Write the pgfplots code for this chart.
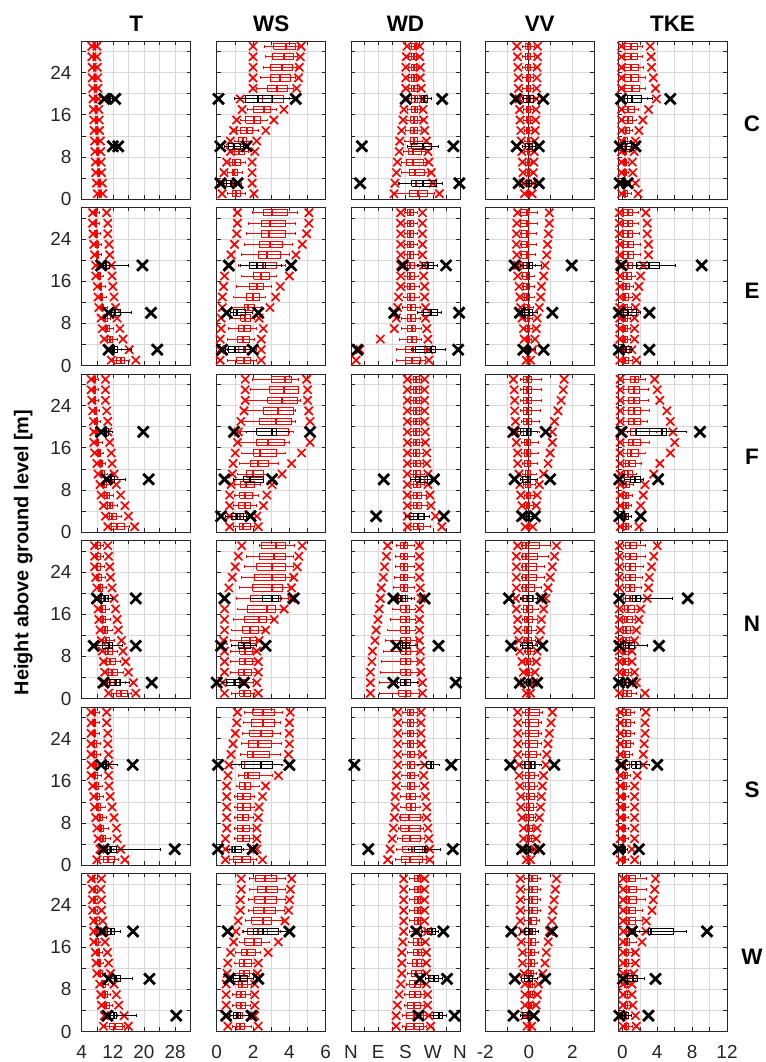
\documentclass[border=0pt]{standalone}
\usepackage{fontspec}
\setmainfont{Liberation Sans}
\usepackage{pgfplots}
\pgfplotsset{compat=1.18}
\usepackage{pgfplotstable}

\newcommand\tickfont{\fontsize{19}{19}\selectfont}
\newcommand\titlefont{\bfseries\fontsize{22.5}{22.5}\selectfont}

% ---------------- Row C ----------------
\pgfplotstableread{
y lo lw qa md qb uw hi
29 6.6 6.9 7.1 7.3 7.5 7.7 7.9
27 6.6 6.9 7.1 7.3 7.5 7.7 7.9
25 6.7 7.0 7.2 7.4 7.6 7.8 8.0
23 6.7 7.0 7.2 7.4 7.6 7.8 8.1
21 6.8 7.1 7.3 7.5 7.7 7.9 8.2
19 6.9 7.2 7.4 7.6 7.8 8.0 8.3
17 7.0 7.3 7.5 7.7 7.9 8.1 8.4
15 7.1 7.4 7.6 7.8 8.0 8.3 8.5
13 7.2 7.5 7.7 7.9 8.1 8.4 8.6
11 7.3 7.6 7.8 8.0 8.3 8.5 8.8
9 7.4 7.7 7.9 8.1 8.4 8.6 8.9
7 7.5 7.8 8.0 8.3 8.5 8.8 9.0
5 7.6 7.9 8.1 8.4 8.6 8.9 9.1
3 7.8 8.0 8.3 8.5 8.8 9.0 9.3
1 8.0 8.2 8.5 8.7 9.0 9.2 9.4
}\datRTaC
\pgfplotstableread{
y lo lw qa md qb uw hi
19 9.8 10.2 10.6 11.0 11.4 11.8 12.6
10 12.0 12.2 12.4 12.7 13.0 13.2 13.4
}\datKTaC
\pgfplotstableread{
y lo lw qa md qb uw hi
29 2.0 2.65 3.15 3.8 4.35 4.5 4.65
27 2.0 2.7 3.05 3.7 4.25 4.45 4.6
25 2.0 2.6 2.95 3.6 4.15 4.4 4.55
23 2.0 2.4 2.95 3.5 4.05 4.35 4.5
21 2.0 2.2 2.8 3.3 3.9 4.2 4.4
19 1.3 1.6 2.5 3.05 3.7 4.0 4.35
17 1.4 1.7 2.0 2.6 2.95 3.3 3.7
15 1.1 1.3 1.6 2.05 2.4 2.8 3.15
13 0.93 1.1 1.3 1.65 1.95 2.3 2.7
11 0.75 0.95 1.2 1.45 1.65 1.9 2.2
9 0.75 0.85 0.95 1.2 1.5 1.75 2.1
7 0.55 0.7 0.85 1.0 1.3 1.6 1.95
5 0.4 0.6 0.85 0.95 1.15 1.4 1.95
3 0.3 0.55 0.75 0.9 1.1 1.35 1.95
1 0.3 0.6 0.85 1.05 1.3 1.6 2.05
}\datRWsC
\pgfplotstableread{
y lo lw qa md qb uw hi
19 0.1 1.0 1.57 2.3 3.05 4.2 4.35
10 0.2 0.45 0.65 0.95 1.3 1.5 1.65
3 0.2 0.4 0.55 0.8 1.0 1.1 1.15
}\datKWsC
\pgfplotstableread{
y lo lw qa md qb uw hi
29 185 192 200 210 216 222 227
27 183 190 199 209 216 222 227
25 181 190 199 209 217 224 229
23 181 190 199 209 217 224 229
21 181 190 199 209 218 226 232
19 181 190 200 210 220 230 238
17 175 185 198 210 220 230 238
15 172 182 197 209 220 232 240
13 167 180 196 208 220 232 243
11 161 175 195 207 220 235 249
9 159 172 189 205 232 245 254
7 153 168 183 205 238 250 257
5 150 165 194 210 243 255 265
3 145 160 200 215 262 266 270
1 142 145 194 221 254 275 292
}\datRWdC
\pgfplotstableread{
y lo lw qa md qb uw hi
19 181 200 232 240 254 265 301
10 36 185 200 238 265 290 338
3 30 156 200 238 281 301 358
}\datKWdC
\pgfplotstableread{
y lo lw qa md qb uw hi
29 -0.55 -0.3 -0.15 -0.05 0.08 0.25 0.40
27 -0.52 -0.3 -0.15 -0.05 0.08 0.25 0.40
25 -0.50 -0.3 -0.14 -0.04 0.07 0.24 0.38
23 -0.48 -0.28 -0.13 -0.04 0.07 0.23 0.37
21 -0.47 -0.27 -0.12 -0.03 0.07 0.22 0.36
19 -0.45 -0.26 -0.12 -0.03 0.06 0.21 0.35
17 -0.42 -0.25 -0.11 -0.03 0.06 0.2 0.33
15 -0.40 -0.23 -0.10 -0.02 0.06 0.19 0.31
13 -0.37 -0.21 -0.09 -0.02 0.05 0.17 0.29
11 -0.34 -0.2 -0.08 -0.02 0.05 0.16 0.27
9 -0.32 -0.18 -0.08 -0.01 0.05 0.15 0.25
7 -0.29 -0.16 -0.07 -0.01 0.04 0.13 0.23
5 -0.27 -0.15 -0.06 -0.01 0.04 0.12 0.21
3 -0.25 -0.14 -0.06 0.0 0.04 0.11 0.2
1 -0.2 -0.1 -0.04 0.0 0.03 0.08 0.15
}\datRVvC
\pgfplotstableread{
y lo lw qa md qb uw hi
19 -0.6 -0.3 -0.23 0.0 0.23 0.4 0.66
10 -0.55 -0.3 -0.15 0.0 0.15 0.3 0.46
3 -0.46 -0.25 -0.12 0.0 0.12 0.3 0.46
}\datKVvC
\pgfplotstableread{
y lo lw qa md qb uw hi
29 -0.1 0.0 0.25 0.95 1.7 2.25 3.2
27 -0.1 0.0 0.25 0.95 1.7 2.25 3.3
25 -0.1 0.0 0.25 1.0 1.8 2.4 3.35
23 -0.1 0.0 0.25 1.0 1.9 2.6 3.55
21 -0.1 0.0 0.25 1.05 1.95 2.6 3.8
19 -0.1 0.0 0.25 1.1 2.2 2.9 3.9
17 -0.1 0.0 0.15 0.7 1.35 1.9 3.0
15 -0.1 0.0 0.15 0.6 1.15 1.6 2.35
13 -0.1 0.0 0.1 0.4 0.8 1.2 1.9
11 -0.1 0.0 0.1 0.3 0.6 0.95 1.5
9 -0.1 0.0 0.1 0.3 0.5 0.8 1.35
7 -0.1 0.0 0.1 0.25 0.45 0.75 1.15
5 -0.1 0.0 0.1 0.25 0.45 0.75 1.2
3 -0.1 0.0 0.1 0.3 0.55 0.9 1.5
1 -0.1 0.0 0.1 0.35 0.6 1.0 1.8
}\datRTkC
\pgfplotstableread{
y lo lw qa md qb uw hi
19 -0.15 0.2 0.6 1.15 2.25 3.4 5.5
10 -0.3 -0.1 0.05 0.4 1.1 1.3 1.5
3 -0.3 -0.1 0.0 0.15 0.4 0.5 0.6
}\datKTkC

% ---------------- Row E ----------------
\pgfplotstableread{
y lo lw qa md qb uw hi
29 6.8 7.0 7.3 7.6 7.9 8.6 10.4
27 6.8 7.0 7.3 7.6 7.9 8.6 10.7
25 6.9 7.1 7.4 7.7 8.0 8.8 10.7
23 7.1 7.3 7.6 7.9 8.2 9.0 11.0
21 7.3 7.5 7.8 8.1 8.4 9.2 11.2
19 7.6 7.8 8.1 8.4 8.7 9.5 11.6
17 7.6 7.8 8.1 8.4 8.8 9.7 11.8
15 8.0 8.2 8.5 8.8 9.1 10.0 12.0
13 8.2 8.4 8.7 9.0 9.4 10.3 12.3
11 8.4 8.7 9.0 9.3 9.7 10.6 12.7
9 9.0 9.2 9.5 9.9 10.5 11.4 13.1
7 9.3 9.6 10.0 10.6 11.2 12.2 13.8
5 9.8 10.1 10.6 11.3 12.0 13.2 14.6
3 10.7 11.1 11.6 12.3 13.1 14.3 16.2
1 11.6 12.1 12.9 14.0 15.1 16.3 17.9
}\datRTaE
\pgfplotstableread{
y lo lw qa md qb uw hi
19 9.0 9.3 9.6 10.2 11.2 16.0 19.6
10 10.9 11.2 11.6 12.6 14.0 16.8 21.8
3 10.9 11.3 11.8 12.4 13.1 16.8 23.4
}\datKTaE
\pgfplotstableread{
y lo lw qa md qb uw hi
29 1.14 1.98 2.57 3.05 3.88 4.43 5.07
27 1.14 1.74 2.45 2.93 3.81 4.36 5.07
25 1.10 1.62 2.45 2.86 3.76 4.36 4.95
23 0.98 1.50 2.33 2.93 3.64 4.19 4.71
21 0.79 1.38 2.29 2.76 3.52 4.0 4.36
19 0.62 1.2 2.2 2.57 3.3 3.76 4.1
17 0.43 1.38 2.05 2.45 2.93 3.29 4.0
15 0.38 1.1 1.81 2.21 2.57 3.0 3.5
13 0.31 0.9 1.62 1.98 2.33 2.69 3.24
11 0.31 0.8 1.5 1.74 2.1 2.45 2.93
9 0.24 0.7 1.33 1.55 1.86 2.1 2.33
7 0.24 0.65 1.19 1.5 1.86 2.2 2.57
5 0.19 0.6 1.14 1.43 1.81 2.1 2.45
3 0.19 0.6 1.19 1.5 1.90 2.2 2.45
1 0.19 0.6 1.1 1.5 1.86 2.2 2.45
}\datRWsE
\pgfplotstableread{
y lo lw qa md qb uw hi
19 0.67 1.33 1.81 2.21 2.71 3.57 4.1
10 0.55 0.75 0.9 1.14 1.6 1.98 2.29
3 0.3 0.5 0.67 1.02 1.6 1.98 1.98
}\datKWsE
\pgfplotstableread{
y lo lw qa md qb uw hi
29 164 175 186 195 207 220 236
27 164 175 186 195 207 220 236
25 164 175 186 195 207 220 236
23 164 175 186 195 207 220 236
21 164 175 186 195 207 222 236
19 164 175 186 196 208 224 240
17 164 175 186 196 208 224 240
15 164 175 186 196 208 225 243
13 157 172 186 196 210 226 243
11 154 170 186 197 212 228 246
9 150 168 186 198 213 230 246
7 143 165 186 200 214 232 250
5 97 160 186 200 216 234 254
3 29 150 179 205 243 250 257
1 17 150 179 200 231 245 257
}\datRWdE
\pgfplotstableread{
y lo lw qa md qb uw hi
19 171 220 236 254 271 286 314
10 143 221 240 264 286 300 357
3 21 200 214 264 279 311 354
}\datKWdE
\pgfplotstableread{
y lo lw qa md qb uw hi
29 -0.51 -0.4 -0.37 -0.1 0.0 0.38 0.94
27 -0.55 -0.4 -0.37 -0.1 0.0 0.38 0.94
25 -0.57 -0.4 -0.35 -0.1 0.0 0.36 0.9
23 -0.57 -0.4 -0.35 -0.1 0.0 0.34 0.86
21 -0.55 -0.4 -0.33 -0.1 0.0 0.32 0.82
19 -0.51 -0.35 -0.3 -0.08 0.02 0.3 0.74
17 -0.51 -0.35 -0.28 -0.08 0.02 0.28 0.68
15 -0.45 -0.3 -0.25 -0.07 0.02 0.26 0.58
13 -0.41 -0.28 -0.22 -0.06 0.02 0.24 0.54
11 -0.37 -0.25 -0.2 -0.05 0.02 0.22 0.48
9 -0.31 -0.2 -0.16 -0.04 0.02 0.18 0.38
7 -0.25 -0.18 -0.14 -0.03 0.02 0.15 0.34
5 -0.21 -0.15 -0.12 -0.02 0.02 0.12 0.28
3 -0.21 -0.13 -0.1 -0.02 0.02 0.1 0.18
1 -0.11 -0.07 -0.05 -0.01 0.02 0.05 0.08
}\datRVvE
\pgfplotstableread{
y lo lw qa md qb uw hi
19 -0.65 -0.4 -0.25 0.0 0.18 0.58 1.97
10 -0.41 -0.3 -0.21 0.0 0.18 0.42 1.08
3 -0.25 -0.15 -0.08 0.0 0.1 0.3 0.68
}\datKVvE
\pgfplotstableread{
y lo lw qa md qb uw hi
29 -0.35 0.0 0.15 0.65 1.2 1.9 2.7
27 -0.35 0.0 0.15 0.65 1.2 1.9 2.85
25 -0.35 0.0 0.15 0.65 1.2 2.0 2.85
23 -0.3 0.0 0.15 0.7 1.3 2.1 3.0
21 -0.3 0.0 0.15 0.7 1.3 2.1 3.0
19 -0.3 0.0 0.15 0.6 1.1 1.7 2.4
17 -0.3 0.0 0.15 0.5 1.05 1.5 2.1
15 -0.3 0.0 0.1 0.4 0.8 1.3 1.9
13 -0.3 0.0 0.1 0.35 0.7 1.1 1.6
11 -0.3 0.0 0.1 0.3 0.6 1.0 1.5
9 -0.3 0.0 0.1 0.3 0.6 0.9 1.4
7 -0.3 0.0 0.1 0.3 0.6 0.9 1.4
5 -0.3 0.0 0.1 0.3 0.6 0.9 1.4
3 -0.3 0.0 0.05 0.25 0.5 0.8 1.1
1 -0.3 0.0 0.1 0.35 0.65 1.1 1.6
}\datRTkE
\pgfplotstableread{
y lo lw qa md qb uw hi
19 -0.1 0.6 1.6 3.1 4.3 6.1 9.1
10 -0.4 -0.1 0.15 0.6 1.6 2.1 3.1
3 -0.4 -0.1 0.1 0.4 1.0 1.2 3.1
}\datKTkE

% ---------------- Row F ----------------
\pgfplotstableread{
y lo lw qa md qb uw hi
29 6.4 6.6 6.9 7.2 7.5 8.2 10.1
27 6.4 6.6 6.9 7.2 7.5 8.2 10.1
25 6.6 6.8 7.0 7.3 7.6 8.3 10.1
23 6.8 7.0 7.2 7.5 7.8 8.6 10.4
21 7.0 7.2 7.4 7.7 8.0 8.8 10.7
19 7.1 7.3 7.5 7.8 8.1 8.9 10.7
17 7.1 7.4 7.7 8.0 8.4 9.3 11.2
15 7.3 7.6 8.0 8.4 8.8 9.7 11.6
13 7.9 8.1 8.5 8.9 9.3 10.2 11.8
11 8.2 8.5 8.9 9.3 9.8 10.7 12.3
9 8.7 8.9 9.3 9.8 10.3 11.3 12.9
7 9.0 9.3 9.8 10.4 11.0 12.2 14.0
5 9.6 9.9 10.5 11.2 12.0 13.3 15.1
3 10.1 10.5 11.1 11.9 12.8 14.2 16.0
1 10.7 11.2 11.6 13.0 15.1 16.2 17.6
}\datRTaF
\pgfplotstableread{
y lo lw qa md qb uw hi
19 9.0 9.4 9.8 10.3 10.9 11.8 19.8
10 10.4 10.6 10.9 11.5 12.3 15.3 21.2
}\datKTaF
\pgfplotstableread{
y lo lw qa md qb uw hi
29 1.57 1.98 3.0 3.76 4.12 4.48 4.95
27 1.57 1.86 2.93 3.71 4.48 4.52 5.0
25 1.57 1.62 2.81 3.57 4.43 4.6 5.0
23 1.50 1.50 2.57 3.40 4.24 4.36 5.07
21 1.33 1.40 2.38 3.29 4.12 4.36 5.14
19 1.19 1.30 2.21 3.05 3.95 4.2 5.14
17 1.14 1.25 2.21 2.81 3.71 4.0 5.14
15 1.02 1.38 2.05 2.38 3.29 3.76 4.67
13 0.90 1.25 1.86 2.29 2.83 3.38 4.12
11 0.86 1.15 1.62 1.98 2.57 2.81 3.6
9 0.79 1.0 1.33 1.62 2.09 2.4 3.05
7 0.71 0.95 1.26 1.55 1.98 2.3 2.76
5 0.71 0.9 1.19 1.55 1.86 2.2 2.57
3 0.71 0.85 1.02 1.3 1.62 1.9 2.21
1 0.71 0.9 1.26 1.45 1.86 2.1 2.29
}\datRWsF
\pgfplotstableread{
y lo lw qa md qb uw hi
19 0.95 1.62 2.21 3.05 3.3 4.00 5.14
10 0.43 0.9 1.5 1.86 2.57 2.57 3.05
3 0.24 0.5 0.79 1.14 1.50 1.62 1.86
}\datKWsF
\pgfplotstableread{
y lo lw qa md qb uw hi
29 186 195 205 214 225 232 243
27 186 195 205 214 225 232 243
25 186 195 205 214 225 232 243
23 186 195 205 214 225 232 243
21 186 195 205 214 225 232 243
19 186 195 205 214 225 234 245
17 186 195 205 215 226 236 246
15 186 195 205 215 227 238 250
13 186 195 205 215 228 240 250
11 186 195 205 216 229 242 254
9 186 195 205 217 230 244 254
7 186 195 205 218 232 248 261
5 186 195 205 219 234 252 264
3 186 195 205 220 238 258 279
1 186 195 207 222 240 262 300
}\datRWdF
\pgfplotstableread{
y lo lw qa md qb uw hi
10 108 197 214 229 254 269 274
3 83 180 193 221 243 260 307
}\datKWdF
\pgfplotstableread{
y lo lw qa md qb uw hi
29 -0.71 -0.4 -0.25 -0.08 0.1 0.6 1.62
27 -0.67 -0.4 -0.25 -0.08 0.1 0.58 1.58
25 -0.65 -0.4 -0.25 -0.08 0.1 0.56 1.48
23 -0.65 -0.38 -0.25 -0.08 0.1 0.52 1.34
21 -0.61 -0.36 -0.24 -0.07 0.1 0.5 1.18
19 -0.61 -0.36 -0.23 -0.07 0.1 0.48 1.08
17 -0.57 -0.34 -0.22 -0.06 0.09 0.46 1.08
15 -0.51 -0.32 -0.2 -0.06 0.09 0.42 0.98
13 -0.51 -0.3 -0.18 -0.05 0.08 0.38 0.88
11 -0.45 -0.28 -0.16 -0.04 0.08 0.34 0.68
9 -0.41 -0.25 -0.14 -0.04 0.07 0.3 0.48
7 -0.37 -0.22 -0.12 -0.03 0.06 0.24 0.38
5 -0.31 -0.18 -0.1 -0.02 0.05 0.2 0.34
3 -0.25 -0.15 -0.08 -0.02 0.05 0.16 0.28
1 -0.17 -0.1 -0.05 -0.01 0.03 0.1 0.18
}\datRVvF
\pgfplotstableread{
y lo lw qa md qb uw hi
19 -0.71 -0.5 -0.37 -0.1 0.08 0.4 0.78
10 -0.65 -0.4 -0.31 -0.05 0.08 0.4 0.98
3 -0.31 -0.2 -0.1 0.0 0.05 0.15 0.28
}\datKVvF
\pgfplotstableread{
y lo lw qa md qb uw hi
29 -0.25 0.15 0.9 1.4 1.9 2.6 3.7
27 -0.25 0.15 0.75 1.3 2.0 3.0 4.0
25 -0.25 0.15 0.65 1.3 2.0 3.0 4.3
23 -0.25 0.15 0.65 1.3 2.1 3.1 5.1
21 -0.25 0.15 0.65 1.3 2.1 2.9 5.5
19 -0.25 0.15 0.9 1.6 3.1 3.9 5.8
17 -0.25 0.15 0.65 1.2 2.1 3.1 6.0
15 -0.25 0.1 0.55 1.0 1.9 2.6 5.5
13 -0.25 0.1 0.4 0.8 1.5 2.2 4.3
11 -0.25 0.05 0.25 0.6 1.1 1.6 3.6
9 -0.25 0.0 0.15 0.45 0.8 1.3 2.6
7 -0.25 0.0 0.15 0.4 0.7 1.1 2.4
5 -0.25 0.0 0.15 0.4 0.7 1.0 2.1
3 -0.25 0.0 0.15 0.4 0.7 1.0 2.1
1 -0.25 0.0 0.15 0.4 0.7 1.0 1.9
}\datRTkF
\pgfplotstableread{
y lo lw qa md qb uw hi
19 -0.1 0.6 1.6 4.6 5.1 7.3 8.9
10 -0.35 0.2 0.9 1.4 2.1 2.4 4.1
3 -0.35 -0.1 0.05 0.3 0.7 1.0 2.1
}\datKTkF

% ---------------- Row N ----------------
\pgfplotstableread{
y lo lw qa md qb uw hi
29 7.3 7.4 7.6 7.9 8.7 9.5 10.7
27 7.3 7.4 7.6 7.9 8.7 9.6 10.9
25 7.3 7.5 7.7 8.0 8.8 9.8 11.2
23 7.6 7.7 7.9 8.3 9.0 10.1 11.4
21 7.9 8.0 8.2 8.6 9.3 10.3 11.8
19 7.9 8.1 8.4 8.9 9.6 10.6 12.3
17 8.2 8.4 8.7 9.3 10.1 11.1 12.7
15 8.4 8.6 8.9 9.5 10.2 11.4 13.1
13 8.7 8.9 9.3 9.9 10.7 11.9 13.4
11 9.0 9.2 9.6 10.3 11.1 12.4 14.2
9 9.3 9.6 10.0 10.8 11.8 13.1 14.6
7 9.6 9.9 10.3 11.3 12.6 14.0 15.3
5 9.9 10.3 10.9 11.9 13.2 14.6 16.0
3 10.1 10.6 11.3 12.5 13.8 15.3 17.3
1 10.9 11.6 12.9 14.2 15.7 16.7 17.9
}\datRTaN
\pgfplotstableread{
y lo lw qa md qb uw hi
19 7.9 8.5 9.0 9.9 10.9 11.8 17.9
10 7.1 7.9 9.3 11.0 11.8 14.6 17.9
3 9.6 10.5 11.2 12.8 14.0 16.2 22.0
}\datKTaN
\pgfplotstableread{
y lo lw qa md qb uw hi
29 1.38 2.38 2.45 3.29 3.76 4.29 4.71
27 1.19 1.62 2.33 3.17 3.76 4.24 4.52
25 1.02 1.50 2.21 3.05 3.76 4.24 4.43
23 0.86 1.38 2.10 3.05 3.76 4.12 4.24
21 0.67 1.26 1.98 3.05 3.64 4.0 4.12
19 0.43 1.1 1.86 3.05 3.52 3.95 4.12
17 0.43 1.14 1.67 2.76 3.24 3.64 3.71
15 0.43 0.9 1.50 2.33 2.76 3.05 3.17
13 0.43 0.8 1.43 1.86 2.29 2.57 2.69
11 0.38 0.75 1.38 1.86 2.21 2.3 2.33
9 0.43 0.75 1.26 1.55 1.98 2.2 2.21
7 0.43 0.75 1.26 1.55 1.98 2.2 2.29
5 0.43 0.75 1.19 1.5 1.90 2.2 2.29
3 0.31 0.6 0.90 1.26 1.57 2.0 2.21
1 0.43 0.8 1.26 1.50 1.86 2.1 2.29
}\datRWsN
\pgfplotstableread{
y lo lw qa md qb uw hi
19 0.43 1.86 2.52 3.05 3.40 3.57 4.24
10 0.24 0.8 1.2 1.50 1.86 2.21 2.69
3 0.0 0.3 0.55 1.02 1.38 1.50 1.50
}\datKWsN
\pgfplotstableread{
y lo lw qa md qb uw hi
29 121 150 164 175 186 210 226
27 117 148 164 175 186 210 226
25 111 146 164 175 186 210 226
23 107 144 164 175 186 210 226
21 100 140 164 175 186 210 229
19 97 138 157 170 186 210 231
17 93 136 164 180 193 214 226
15 89 129 164 180 193 214 226
13 83 121 164 180 193 214 226
11 79 114 164 180 196 216 226
9 71 107 164 180 197 218 229
7 69 100 164 180 197 220 229
5 64 97 164 180 197 222 231
3 64 93 164 180 197 222 236
1 64 93 157 180 197 226 236
}\datRWdN
\pgfplotstableread{
y lo lw qa md qb uw hi
19 140 150 155 164 179 200 243
10 150 165 171 182 193 221 289
3 140 155 164 179 197 221 346
}\datKWdN
\pgfplotstableread{
y lo lw qa md qb uw hi
29 -0.51 -0.35 -0.31 -0.12 0.48 0.98 1.27
27 -0.57 -0.35 -0.31 -0.12 0.38 0.88 1.18
25 -0.57 -0.35 -0.31 -0.12 0.34 0.74 1.08
23 -0.57 -0.35 -0.31 -0.12 0.34 0.7 0.98
21 -0.57 -0.35 -0.31 -0.12 0.28 0.6 0.88
19 -0.61 -0.35 -0.28 -0.1 0.2 0.5 0.78
17 -0.57 -0.33 -0.25 -0.1 0.18 0.46 0.68
15 -0.51 -0.3 -0.22 -0.08 0.15 0.4 0.58
13 -0.51 -0.28 -0.2 -0.07 0.12 0.36 0.54
11 -0.45 -0.25 -0.18 -0.06 0.1 0.3 0.48
9 -0.41 -0.22 -0.15 -0.05 0.08 0.25 0.38
7 -0.31 -0.18 -0.12 -0.04 0.06 0.2 0.34
5 -0.25 -0.15 -0.1 -0.03 0.05 0.16 0.28
3 -0.21 -0.12 -0.08 -0.02 0.04 0.12 0.22
1 -0.11 -0.06 -0.04 0.0 0.02 0.05 0.08
}\datRVvN
\pgfplotstableread{
y lo lw qa md qb uw hi
19 -0.91 -0.4 -0.25 -0.05 0.18 0.4 0.58
10 -0.81 -0.4 -0.31 -0.05 0.18 0.4 0.62
3 -0.41 -0.2 -0.1 0.0 0.1 0.2 0.38
}\datKVvN
\pgfplotstableread{
y lo lw qa md qb uw hi
29 -0.35 0.1 0.4 0.9 1.6 2.6 4.0
27 -0.35 0.1 0.4 0.9 1.6 2.6 3.6
25 -0.35 0.1 0.4 0.9 1.5 2.4 3.35
23 -0.35 0.1 0.4 0.9 1.5 2.3 3.1
21 -0.35 0.1 0.4 0.85 1.4 2.2 3.0
19 -0.35 0.1 0.4 0.85 1.6 2.2 2.85
17 -0.35 0.05 0.25 0.7 1.4 1.8 2.1
15 -0.35 0.05 0.2 0.55 1.1 1.5 1.9
13 -0.35 0.0 0.15 0.45 0.9 1.3 1.6
11 -0.35 0.0 0.15 0.4 0.8 1.1 1.4
9 -0.35 0.0 0.1 0.35 0.7 1.0 1.1
7 -0.35 0.0 0.1 0.35 0.7 1.0 1.1
5 -0.35 0.0 0.1 0.35 0.7 1.0 1.4
3 -0.35 0.0 0.1 0.4 0.8 1.1 1.6
1 -0.35 0.0 0.15 0.5 1.0 1.6 2.6
}\datRTkN
\pgfplotstableread{
y lo lw qa md qb uw hi
19 -0.35 0.4 1.2 1.6 2.1 5.8 7.5
10 -0.35 0.1 0.4 0.75 1.4 2.85 4.2
3 -0.4 -0.1 0.05 0.3 0.7 0.9 1.1
}\datKTkN

% ---------------- Row S ----------------
\pgfplotstableread{
y lo lw qa md qb uw hi
29 6.4 6.6 6.8 7.1 7.6 8.6 10.4
27 6.4 6.6 6.8 7.1 7.6 8.6 10.4
25 6.4 6.6 6.8 7.1 7.6 8.6 10.7
23 6.4 6.6 6.9 7.2 7.7 8.7 10.7
21 6.4 6.6 6.9 7.2 7.8 8.8 10.9
19 6.4 6.7 7.0 7.3 7.9 8.9 10.9
17 6.4 6.7 7.0 7.4 8.0 9.0 10.9
15 6.8 7.0 7.3 7.7 8.3 9.3 11.0
13 7.1 7.3 7.6 8.0 8.6 9.6 11.3
11 7.3 7.5 7.8 8.3 8.9 10.0 11.8
9 7.6 7.8 8.1 8.6 9.3 10.4 12.3
7 7.9 8.1 8.5 9.0 9.7 10.9 12.9
5 8.2 8.5 8.9 9.5 10.2 11.4 13.1
3 8.7 9.0 9.6 10.2 11.0 12.2 14.0
1 7.9 8.6 9.6 10.7 12.3 13.5 15.1
}\datRTaS
\pgfplotstableread{
y lo lw qa md qb uw hi
19 9.0 9.3 9.6 10.2 10.9 13.3 17.1
3 9.6 10.2 10.7 11.6 12.9 24.2 27.9
}\datKTaS
\pgfplotstableread{
y lo lw qa md qb uw hi
29 1.14 1.50 1.98 2.57 3.17 3.64 4.05
27 1.10 1.45 1.90 2.57 3.17 3.52 4.0
25 1.02 1.40 1.81 2.45 3.05 3.52 4.0
23 0.90 1.35 1.74 2.29 3.00 3.57 4.0
21 0.79 1.30 1.67 1.98 2.93 3.52 3.95
19 0.67 1.25 1.50 2.45 3.05 3.6 4.0
17 0.62 1.20 1.50 1.74 2.33 3.05 3.4
15 0.55 1.10 1.26 1.57 1.86 2.33 2.69
13 0.55 1.0 1.14 1.43 1.86 2.1 2.52
11 0.55 1.0 1.14 1.43 1.86 2.1 2.33
9 0.55 1.0 1.14 1.43 1.74 2.0 2.29
7 0.55 0.95 1.14 1.43 1.81 2.0 2.21
5 0.48 0.95 1.14 1.43 1.81 2.0 2.21
3 0.48 0.7 0.79 1.0 1.38 1.8 2.21
1 0.48 0.7 0.90 1.38 1.86 2.2 2.52
}\datRWsS
\pgfplotstableread{
y lo lw qa md qb uw hi
19 0.07 0.79 1.38 2.45 3.05 3.57 4.0
3 0.07 0.6 0.86 1.02 1.38 1.50 1.98
}\datKWsS
\pgfplotstableread{
y lo lw qa md qb uw hi
29 154 170 186 195 207 220 231
27 154 170 186 195 207 220 231
25 154 170 186 195 207 220 231
23 154 170 186 195 207 220 231
21 154 170 186 195 209 222 236
19 154 170 186 196 210 224 243
17 150 168 186 196 210 224 240
15 150 166 186 196 211 226 243
13 146 164 184 196 212 228 246
11 146 162 184 197 213 230 250
9 143 160 164 190 229 236 250
7 140 158 164 190 230 240 254
5 136 155 171 196 229 244 257
3 129 150 171 200 236 248 260
1 121 146 168 196 236 250 260
}\datRWdS
\pgfplotstableread{
y lo lw qa md qb uw hi
19 11 221 250 264 274 293 331
3 57 190 211 243 254 297 336
}\datKWdS
\pgfplotstableread{
y lo lw qa md qb uw hi
29 -0.51 -0.3 -0.17 0.02 0.48 0.62 1.08
27 -0.51 -0.3 -0.17 0.02 0.45 0.6 1.02
25 -0.51 -0.3 -0.17 0.02 0.42 0.58 0.94
23 -0.51 -0.3 -0.17 0.02 0.4 0.56 0.88
21 -0.51 -0.3 -0.17 0.02 0.36 0.52 0.82
19 -0.45 -0.28 -0.15 0.02 0.32 0.48 0.78
17 -0.45 -0.27 -0.15 0.02 0.28 0.44 0.68
15 -0.41 -0.25 -0.14 0.02 0.26 0.4 0.62
13 -0.37 -0.23 -0.12 0.02 0.24 0.38 0.58
11 -0.37 -0.22 -0.12 0.02 0.22 0.36 0.54
9 -0.31 -0.2 -0.1 0.02 0.2 0.32 0.48
7 -0.25 -0.16 -0.08 0.02 0.16 0.26 0.38
5 -0.25 -0.15 -0.07 0.02 0.14 0.24 0.34
3 -0.21 -0.12 -0.06 0.01 0.1 0.18 0.28
1 -0.11 -0.06 -0.03 0.0 0.03 0.05 0.08
}\datRVvS
\pgfplotstableread{
y lo lw qa md qb uw hi
19 -0.85 -0.4 -0.21 0.08 0.28 0.58 1.17
3 -0.31 -0.2 -0.1 0.0 0.1 0.2 0.48
}\datKVvS
\pgfplotstableread{
y lo lw qa md qb uw hi
29 -0.25 0.0 0.0 0.4 0.9 1.4 2.7
27 -0.25 0.0 0.0 0.4 0.9 1.4 2.6
25 -0.25 0.0 0.0 0.4 0.9 1.4 2.6
23 -0.25 0.0 0.0 0.4 0.9 1.3 2.5
21 -0.25 0.0 0.0 0.35 0.85 1.2 2.4
19 -0.25 0.0 0.0 0.3 0.8 1.1 2.4
17 -0.25 0.0 0.0 0.3 0.6 0.9 1.7
15 -0.25 0.0 0.0 0.2 0.5 0.8 1.4
13 -0.25 0.0 0.0 0.2 0.4 0.7 1.4
11 -0.25 0.0 0.0 0.2 0.4 0.7 1.4
9 -0.25 0.0 0.0 0.2 0.4 0.7 1.4
7 -0.25 0.0 0.0 0.2 0.4 0.7 1.4
5 -0.25 0.0 0.0 0.2 0.4 0.7 1.4
3 -0.25 0.0 0.0 0.15 0.35 0.6 1.1
1 -0.25 0.0 0.0 0.2 0.4 0.7 1.4
}\datRTkS
\pgfplotstableread{
y lo lw qa md qb uw hi
19 -0.1 0.6 1.1 1.6 2.1 3.1 4.0
3 -0.45 -0.2 0.0 0.15 0.4 0.6 1.9
}\datKTkS

% ---------------- Row W ----------------
\pgfplotstableread{
y lo lw qa md qb uw hi
29 6.5 6.6 6.8 7.0 7.4 8.0 9.1
27 6.8 6.9 7.0 7.2 7.5 8.0 8.9
25 6.8 6.9 7.0 7.2 7.5 8.1 9.1
23 6.8 6.9 7.0 7.2 7.5 8.1 9.1
21 7.1 7.2 7.4 7.6 7.9 8.5 9.4
19 7.1 7.2 7.4 7.6 8.0 8.7 9.8
17 7.1 7.3 7.5 7.8 8.2 8.9 10.0
15 7.5 7.6 7.8 8.1 8.6 9.3 10.6
13 7.7 7.8 8.1 8.4 8.9 9.7 10.9
11 7.9 8.1 8.4 8.8 9.3 10.2 11.4
9 8.6 8.8 9.1 9.5 10.0 10.8 12.3
7 8.9 9.1 9.4 9.9 10.5 11.4 12.9
5 9.1 9.4 9.8 10.3 11.0 12.0 13.5
3 9.8 10.1 10.6 11.2 12.3 13.2 14.9
1 9.6 10.1 11.2 12.5 14.4 15.0 16.0
}\datRTaW
\pgfplotstableread{
y lo lw qa md qb uw hi
19 9.1 9.8 10.6 11.4 12.3 14.0 17.2
10 10.9 11.5 12.3 12.9 14.0 17.0 21.4
3 10.6 11.0 11.4 12.3 12.9 18.1 28.3
}\datKTaW
\pgfplotstableread{
y lo lw qa md qb uw hi
29 1.35 1.79 2.16 2.65 3.27 3.76 4.13
27 1.35 1.79 2.23 2.73 3.32 3.76 4.06
25 1.30 1.74 2.09 2.65 3.27 3.76 4.01
23 1.30 1.74 2.04 2.58 3.22 3.71 3.96
21 1.18 1.60 1.92 2.53 3.03 3.64 3.76
19 1.06 1.40 1.67 2.28 2.78 3.5 4.0
17 0.93 1.25 1.55 2.04 2.48 2.9 3.39
15 0.76 1.05 1.35 1.67 2.16 2.4 2.83
13 0.61 0.95 1.25 1.5 1.92 2.1 2.29
11 0.57 0.9 1.25 1.5 1.79 2.0 2.24
9 0.52 0.9 1.18 1.4 1.67 1.9 2.09
7 0.52 0.85 1.11 1.35 1.60 1.85 2.09
5 0.52 0.85 1.11 1.35 1.60 1.85 2.09
3 0.52 0.75 0.93 1.15 1.43 1.75 2.09
1 0.61 0.85 1.06 1.3 1.55 1.9 2.29
}\datRWsW
\pgfplotstableread{
y lo lw qa md qb uw hi
19 0.61 1.5 2.04 2.53 3.39 3.88 4.0
10 0.69 0.8 0.93 1.30 1.67 2.04 2.29
3 0.52 0.7 0.93 1.11 1.30 1.79 1.92
}\datKWsW
\pgfplotstableread{
y lo lw qa md qb uw hi
29 174 192 208 220 228 236 243
27 174 192 208 220 228 236 243
25 174 192 208 220 228 236 243
23 174 192 208 220 228 236 243
21 174 192 208 220 230 238 243
19 174 192 208 222 232 242 253
17 171 190 205 220 232 240 246
15 168 188 205 220 232 242 249
13 168 186 203 218 232 242 249
11 168 186 200 216 232 242 249
9 164 182 194 212 231 242 249
7 159 178 194 212 231 244 253
5 153 175 186 208 231 244 253
3 149 170 183 207 238 248 257
1 149 170 183 208 238 250 263
}\datRWdW
\pgfplotstableread{
y lo lw qa md qb uw hi
19 216 235 253 268 278 290 305
10 228 245 257 275 290 302 317
3 223 260 272 290 302 317 342
}\datKWdW
\pgfplotstableread{
y lo lw qa md qb uw hi
29 -0.39 -0.2 0.02 0.13 0.4 0.55 1.27
27 -0.39 -0.2 0.02 0.13 0.4 0.55 1.22
25 -0.39 -0.2 0.02 0.13 0.38 0.55 1.16
23 -0.39 -0.2 0.02 0.13 0.38 0.52 1.10
21 -0.39 -0.2 0.02 0.12 0.36 0.5 1.06
19 -0.29 -0.16 0.0 0.1 0.3 0.46 0.95
17 -0.35 -0.18 0.0 0.1 0.3 0.44 0.89
15 -0.29 -0.16 0.0 0.1 0.28 0.42 0.8
13 -0.29 -0.16 0.0 0.1 0.26 0.38 0.74
11 -0.22 -0.12 0.0 0.08 0.22 0.34 0.64
9 -0.18 -0.1 0.0 0.06 0.18 0.28 0.44
7 -0.18 -0.1 0.0 0.06 0.16 0.24 0.39
5 -0.18 -0.1 0.0 0.05 0.14 0.22 0.33
3 -0.18 -0.08 0.0 0.05 0.12 0.18 0.23
1 -0.08 -0.04 0.0 0.03 0.06 0.1 0.13
}\datRVvW
\pgfplotstableread{
y lo lw qa md qb uw hi
19 -0.8 -0.4 -0.2 0.02 0.19 0.44 1.06
10 -0.64 -0.35 -0.18 0.02 0.19 0.4 0.75
3 -0.7 -0.4 -0.29 -0.05 0.13 0.2 0.23
}\datKVvW
\pgfplotstableread{
y lo lw qa md qb uw hi
29 0.07 0.2 0.43 0.8 1.46 2.75 3.8
27 0.07 0.2 0.43 0.8 1.6 2.75 3.7
25 0.07 0.2 0.43 0.8 1.6 2.65 3.55
23 0.07 0.2 0.43 0.8 1.46 2.35 3.4
21 0.07 0.2 0.43 0.8 1.46 2.25 2.75
19 0.1 0.2 0.43 0.8 1.46 2.0 2.7
17 0.07 0.1 0.2 0.5 0.8 1.6 2.25
15 0.07 0.1 0.2 0.45 0.7 1.1 1.5
13 0.07 0.1 0.2 0.45 0.7 1.1 1.5
11 0.07 0.1 0.2 0.4 0.65 1.0 1.3
9 0.07 0.1 0.2 0.35 0.6 0.9 1.1
7 0.07 0.1 0.2 0.35 0.6 0.9 1.1
5 0.07 0.1 0.2 0.35 0.6 0.9 1.2
3 0.07 0.1 0.2 0.4 0.65 1.0 1.5
1 0.07 0.1 0.2 0.45 0.75 1.1 1.6
}\datRTkW
\pgfplotstableread{
y lo lw qa md qb uw hi
19 1.1 1.46 3.0 3.3 5.85 7.4 9.7
10 0.07 0.3 0.6 1.2 1.7 2.5 3.8
3 -0.35 -0.2 0.07 0.3 0.7 1.0 3.0
}\datKTkW

% ---------------- drawing helpers ----------------
% one path per table row: box, whisker line through the box, whisker caps
\newcommand\bxp[3]{%
  \pgfplotstablegetrowsof{#1}%
  \pgfmathtruncatemacro\nlast{\pgfplotsretval-1}%
  \foreach \r in {0,...,\nlast}{%
    \pgfplotstablegetelem{\r}{y}\of{#1}\let\vy\pgfplotsretval
    \pgfplotstablegetelem{\r}{lw}\of{#1}\let\vlw\pgfplotsretval
    \pgfplotstablegetelem{\r}{qa}\of{#1}\let\vqa\pgfplotsretval
    \pgfplotstablegetelem{\r}{qb}\of{#1}\let\vqb\pgfplotsretval
    \pgfplotstablegetelem{\r}{uw}\of{#1}\let\vuw\pgfplotsretval
    \pgfmathsetmacro\ya{\vy-0.6}\pgfmathsetmacro\yb{\vy+0.6}%
    \pgfmathsetmacro\yc{\vy-0.27}\pgfmathsetmacro\yd{\vy+0.27}%
    \edef\doplot{\noexpand\addplot[draw=#2, line width=#3, mark=none, unbounded coords=jump, forget plot]
      coordinates {(\vqa,\ya) (\vqb,\ya) (\vqb,\yb) (\vqa,\yb) (\vqa,\ya) (\vqa,nan)
        (\vlw,\vy) (\vuw,\vy) (\vuw,nan)
        (\vlw,\yc) (\vlw,\yd) (\vlw,nan)
        (\vuw,\yc) (\vuw,\yd)};}%
    \doplot
  }%
}

\pgfplotsset{
  common/.style={
    scale only axis, width=109bp, height=158bp, anchor=south west,
    ymin=0, ymax=30, ytick={0,4,...,28},
    tick align=inside, tick pos=both, major tick length=4bp,
    grid=major, major grid style={black!15, line width=0.5bp},
    axis line style={black!85, line width=0.7bp},
    every tick/.style={black!85, line width=0.5bp},
    clip mode=individual,
    xticklabel style={font=\tickfont, text=black!85, anchor=north, inner sep=0pt, yshift=-14bp},
    yticklabel style={font=\tickfont, text=black!85, anchor=east, inner sep=0pt, xshift=-10bp},
  },
  colTa/.style={xmin=4,xmax=32,xtick={4,8,...,32}},
  labTa/.style={xticklabels={4,,12,,20,,28,}},
  colWs/.style={xmin=0,xmax=6,xtick={0,1,...,6}},
  labWs/.style={xticklabels={0,,2,,4,,6}},
  colWd/.style={xmin=0,xmax=360,xtick={0,45,...,360}},
  labWd/.style={xticklabels={N,,E,,S,,W,,N}},
  colVv/.style={xmin=-2,xmax=3,xtick={-2,-1,...,3}},
  labVv/.style={xticklabels={-2,,0,,2,}},
  colTk/.style={xmin=-0.5,xmax=12,xtick={0,2,...,12}},
  labTk/.style={xticklabels={0,,4,,8,,12}},
  noX/.style={xticklabels={,,,,,,,,,,}},
  labY/.style={yticklabels={0,,8,,16,,24,}},
  noY/.style={yticklabels={,,,,,,,,,,}},
}

\newcommand\zeroline{\addplot[black!85, line width=0.9bp, forget plot] coordinates {(0,0) (0,30)};}

\newcommand\panel[6]{%
  \begin{axis}[common, at={(#1bp,#2bp)}, #3]
    #6
    \bxp{#4}{red}{0.9bp}
    \addplot[red, only marks, mark=|, mark size=3.2bp, line width=2bp] table[x=md,y=y]{#4};
    \addplot[red, only marks, mark=x, mark size=5.8bp, line width=1.7bp] table[x=lo,y=y]{#4};
    \addplot[red, only marks, mark=x, mark size=5.8bp, line width=1.7bp] table[x=hi,y=y]{#4};
    \bxp{#5}{black}{1bp}
    \addplot[black, only marks, mark=|, mark size=3.2bp, line width=2bp] table[x=md,y=y]{#5};
    \addplot[black, only marks, mark=x, mark size=7.6bp, line width=2.8bp] table[x=lo,y=y]{#5};
    \addplot[black, only marks, mark=x, mark size=7.6bp, line width=2.8bp] table[x=hi,y=y]{#5};
  \end{axis}%
}

\begin{document}
\begin{tikzpicture}
\path[use as bounding box] (0bp,0bp) rectangle (766bp,1062bp);

% Row C
\panel{81.7}{863}{colTa,labY,noX}{\datRTaC}{\datKTaC}{}
\panel{216.7}{863}{colWs,noY,noX}{\datRWsC}{\datKWsC}{}
\panel{351}{863}{colWd,noY,noX}{\datRWdC}{\datKWdC}{}
\panel{485.2}{863}{colVv,noY,noX}{\datRVvC}{\datKVvC}{\zeroline}
\panel{618}{863}{colTk,noY,noX}{\datRTkC}{\datKTkC}{}
% Row E
\panel{81.7}{696.5}{colTa,labY,noX}{\datRTaE}{\datKTaE}{}
\panel{216.7}{696.5}{colWs,noY,noX}{\datRWsE}{\datKWsE}{}
\panel{351}{696.5}{colWd,noY,noX}{\datRWdE}{\datKWdE}{}
\panel{485.2}{696.5}{colVv,noY,noX}{\datRVvE}{\datKVvE}{\zeroline}
\panel{618}{696.5}{colTk,noY,noX}{\datRTkE}{\datKTkE}{}
% Row F
\panel{81.7}{530}{colTa,labY,noX}{\datRTaF}{\datKTaF}{}
\panel{216.7}{530}{colWs,noY,noX}{\datRWsF}{\datKWsF}{}
\panel{351}{530}{colWd,noY,noX}{\datRWdF}{\datKWdF}{}
\panel{485.2}{530}{colVv,noY,noX}{\datRVvF}{\datKVvF}{\zeroline}
\panel{618}{530}{colTk,noY,noX}{\datRTkF}{\datKTkF}{}
% Row N
\panel{81.7}{363.5}{colTa,labY,noX}{\datRTaN}{\datKTaN}{}
\panel{216.7}{363.5}{colWs,noY,noX}{\datRWsN}{\datKWsN}{}
\panel{351}{363.5}{colWd,noY,noX}{\datRWdN}{\datKWdN}{}
\panel{485.2}{363.5}{colVv,noY,noX}{\datRVvN}{\datKVvN}{\zeroline}
\panel{618}{363.5}{colTk,noY,noX}{\datRTkN}{\datKTkN}{}
% Row S
\panel{81.7}{197}{colTa,labY,noX}{\datRTaS}{\datKTaS}{}
\panel{216.7}{197}{colWs,noY,noX}{\datRWsS}{\datKWsS}{}
\panel{351}{197}{colWd,noY,noX}{\datRWdS}{\datKWdS}{}
\panel{485.2}{197}{colVv,noY,noX}{\datRVvS}{\datKVvS}{\zeroline}
\panel{618}{197}{colTk,noY,noX}{\datRTkS}{\datKTkS}{}
% Row W
\panel{81.7}{30.5}{colTa,labY,labTa}{\datRTaW}{\datKTaW}{}
\panel{216.7}{30.5}{colWs,noY,labWs}{\datRWsW}{\datKWsW}{}
\panel{351}{30.5}{colWd,noY,labWd}{\datRWdW}{\datKWdW}{}
\panel{485.2}{30.5}{colVv,noY,labVv}{\datRVvW}{\datKVvW}{\zeroline}
\panel{618}{30.5}{colTk,noY,labTk}{\datRTkW}{\datKTkW}{}

% column titles
\node[anchor=base, font=\titlefont] at (136.2bp,1030.3bp) {T};
\node[anchor=base, font=\titlefont] at (271.2bp,1030.3bp) {WS};
\node[anchor=base, font=\titlefont] at (405.5bp,1030.3bp) {WD};
\node[anchor=base, font=\titlefont] at (539.7bp,1030.3bp) {VV};
\node[anchor=base, font=\titlefont] at (672.5bp,1030.3bp) {TKE};

% row labels
\node[anchor=base, font=\titlefont] at (752bp,930.3bp) {C};
\node[anchor=base, font=\titlefont] at (752bp,763.8bp) {E};
\node[anchor=base, font=\titlefont] at (752bp,597.3bp) {F};
\node[anchor=base, font=\titlefont] at (752bp,430.8bp) {N};
\node[anchor=base, font=\titlefont] at (752bp,264.3bp) {S};
\node[anchor=base, font=\titlefont] at (752bp,97.8bp) {W};

% y label
\node[rotate=90, anchor=base, font=\bfseries\fontsize{20}{20}\selectfont] at (28.3bp,509.5bp) {Height above ground level [m]};
\end{tikzpicture}
\end{document}
